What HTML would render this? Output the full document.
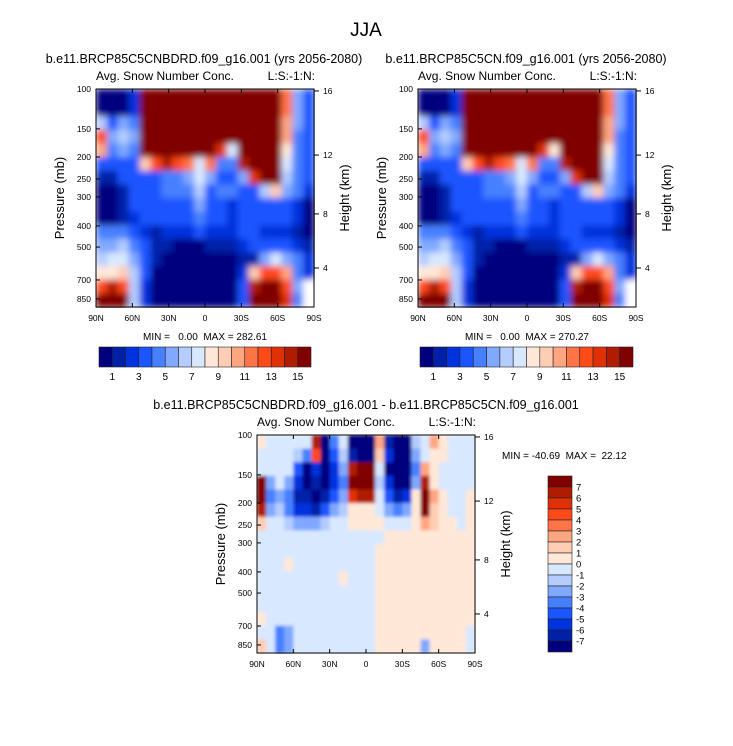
<!DOCTYPE html>
<html><head><meta charset="utf-8"><style>
body{margin:0;background:#fff;}
svg{display:block;font-family:"Liberation Sans",sans-serif;}
text{white-space:pre;}
</style></head><body>
<svg id="c" width="733" height="746" viewBox="0 0 733 746" xmlns="http://www.w3.org/2000/svg">
<defs>
<filter id="smooth" x="0" y="0" width="1" height="1"><feGaussianBlur stdDeviation="3.2" edgeMode="duplicate"/></filter>
<filter id="smooth2" x="0" y="0" width="1" height="1"><feGaussianBlur stdDeviation="1.6" edgeMode="duplicate"/></filter>
</defs>
<rect width="733" height="746" fill="#fff"/>
<text x="366" y="36" font-size="19" text-anchor="middle">JJA</text>
</svg>
<script>
const palette=["#00007f","#0020a8","#0033dd","#1a55ff","#4780ff","#80a8ff","#b4ccff","#d8e8ff","#ffe8d8","#ffccb4","#ffa680","#ff7447","#ff4a1a","#e03005","#b01c00","#800000"];
const topLevels=["1","3","5","7","9","11","13","15"];
const diffLevels=["7","6","5","4","3","2","1","0","-1","-2","-3","-4","-5","-6","-7"];
const latLabels=["90N","60N","30N","0","30S","60S","90S"];
const presLabels=["100","150","200","250","300","400","500","700","850"];
const presFrac=[0,0.183,0.312,0.413,0.495,0.628,0.725,0.876,0.963];
const hgtLabels=["16","12","8","4"];
const hgtFrac=[0.009,0.303,0.573,0.821];
const grid1=[
"0002fffffffffffffb53",
"0002fffffffffffffb53",
"6354fffffffffffffa53",
"c565fffffffffffffa43",
"a454fffffffd7ffff843",
"33339cecb7b44efff743",
"11333344575335dff643",
"00133344463443369542",
"00133333353323333320",
"00123333343323333320",
"44432122232223322210",
"55643110001112333321",
"67753100000001157542",
"889630000000029cca42",
"cec62000000003effc5-",
"fff62000000003fffd4-"];
const grid2=[
"0002fffffffffffffb53",
"0002fffffffffffffb53",
"6354fffffffffffffa53",
"c565fffffffffffffa43",
"a454fffffffd8ffff843",
"33339cecb7b44efff743",
"11333344575335dff643",
"00133344463443369542",
"00133333353323333320",
"00123333343323333320",
"44432122232223322210",
"55643110001112333321",
"67753100000001157542",
"889630000000029cca42",
"cec62000000003effc5-",
"fff62000000003fffd4-"];
const grid3=[
"877777e047000a10067a8777",
"777764c03610092005788777",
"7777302025eff70004a87777",
"f575201024fff62005e87777",
"f454110135dee73128fa8778",
"e56422135688875458f98778",
"977655567788887778a98878",
"777777777777778888888888",
"777777777777788888888888",
"777877777777788888888888",
"777777777877788888888888",
"777777777777788888888888",
"777777777777788888888888",
"877777777777788888888888",
"774577777777788888888887",
"974577777777788888588887"];
const svg=document.getElementById('c');
const NS="http://www.w3.org/2000/svg";
function el(tag,attrs,parent){const e=document.createElementNS(NS,tag);for(const k in attrs)e.setAttribute(k,attrs[k]);(parent||svg).appendChild(e);return e;}
function txt(x,y,s,size,anchor,parent,rot){const t=el('text',{x:x,y:y,'font-size':size,'text-anchor':anchor||'start'},parent);if(rot)t.setAttribute('transform','rotate(-90 '+x+' '+y+')');t.textContent=s;return t;}
function panel(px,py,pw,ph,grid,name,sub,tx,filt){
  const g=el('g',{});
  
  
  const cells=el('g',{filter:'url(#'+filt+')'},g);
  
  
  const rows=grid.length;
  const xS=(c,n)=>px+c*pw/n, yS=r=>py+r*ph/rows;
  grid.forEach((row,r)=>{
    const n=row.length;
    for(let c=0;c<n;c++){
      const ch=row[c];
      const col=ch==='-'?'#ffffff':palette[parseInt(ch,16)];
      const rc=el('rect',{x:xS(c,n).toFixed(2),y:yS(r).toFixed(2),width:(pw/n+0.6).toFixed(2),height:(ph/rows+0.6).toFixed(2),fill:col},cells);
      
      
    }
  });
  el('rect',{x:px,y:py,width:pw,height:ph,fill:'none',stroke:'#000','stroke-width':1},g);
  latLabels.forEach((l,i)=>{
    const x=px+i*pw/6;
    el('line',{x1:x,y1:py+ph,x2:x,y2:py+ph-4,stroke:'#000'},g);
    el('line',{x1:x,y1:py,x2:x,y2:py+4,stroke:'#000'},g);
    const t=txt(x,py+ph+14,l,8.5,'middle',g);
    
    
  });
  presLabels.forEach((l,i)=>{
    const y=py+presFrac[i]*ph;
    el('line',{x1:px,y1:y,x2:px+4,y2:y,stroke:'#000'},g);
    const t=txt(px-5,y+3,l,8.5,'end',g);
    
    
  });
  hgtLabels.forEach((l,i)=>{
    const y=py+hgtFrac[i]*ph;
    el('line',{x1:px+pw,y1:y,x2:px+pw+5,y2:y,stroke:'#000'},g);
    const t=txt(px+pw+9,y+3,l,8.5,'start',g);
    
    
  });
  const a=txt(px,py-9,'Avg. Snow Number Conc.',12,'start',g);
  const b=txt(px+pw+1,py-9,'L:S:-1:N:',12,'end',g);
  const p=txt(px-32,py+ph/2,'Pressure (mb)',13,'middle',g,true);
  const h=txt(px+pw+35,py+ph/2,'Height (km)',13,'middle',g,true);
  const s=txt(tx,py-26,sub,12.5,'middle',g);
}
function hbar(x,y,w,h,name){
  const g=el('g',{});
  
  
  palette.forEach((c,i)=>{
    const r=el('rect',{x:x+i*w/16,y:y,width:w/16,height:h,fill:c,stroke:'#222','stroke-width':0.6},g);
    
    
  });
  topLevels.forEach((l,i)=>{
    const t=txt(x+(2*i+1)*w/16,y+h+13,l,10,'middle',g);
    
    
  });
}
panel(96,89,218,218,grid1,'left-panel','b.e11.BRCP85C5CNBDRD.f09_g16.001 (yrs 2056-2080)',204,'smooth');
panel(418,89,218,218,grid2,'right-panel','b.e11.BRCP85C5CN.f09_g16.001 (yrs 2056-2080)',526,'smooth');
let m=txt(205,340,'MIN =   0.00  MAX = 282.61',10,'middle');
m=txt(527,340,'MIN =   0.00  MAX = 270.27',10,'middle');
hbar(99,347,212,20,'left-colorbar');
hbar(420,347,213,20,'right-colorbar');
panel(257,435,218,218,grid3,'diff-panel','b.e11.BRCP85C5CNBDRD.f09_g16.001 - b.e11.BRCP85C5CN.f09_g16.001',366,'smooth2');
m=txt(502,459,'MIN = -40.69  MAX =  22.12',10,'start');
(function(){
  const x=548,y=476,w=24,h=176;
  const g=el('g',{});
  
  
  for(let i=0;i<16;i++){
    const r=el('rect',{x:x,y:y+i*h/16,width:w,height:h/16,fill:palette[15-i],stroke:'#222','stroke-width':0.6},g);
    
    
  }
  diffLevels.forEach((l,i)=>{
    const t=txt(x+w+4,y+(i+1)*h/16+3.5,l,9.5,'start',g);
    
    
  });
})();
</script>
</body></html>
